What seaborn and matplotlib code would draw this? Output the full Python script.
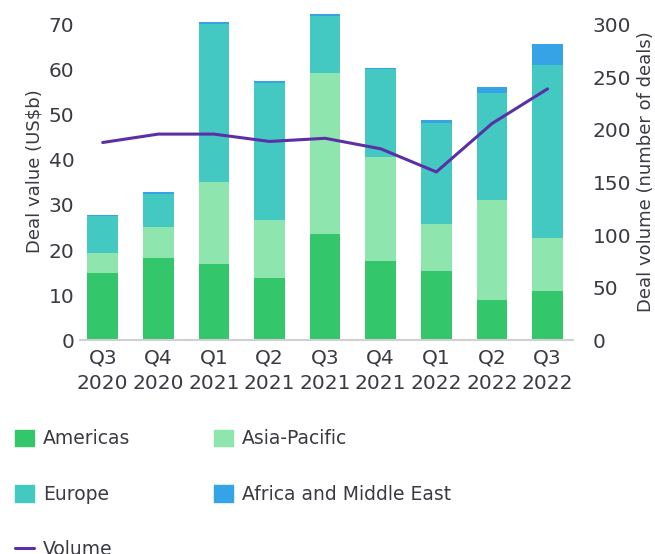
import matplotlib
matplotlib.use("Agg")
import matplotlib.pyplot as plt
import numpy as np
import pandas as pd
import seaborn as sns
from matplotlib.lines import Line2D
from matplotlib.patches import Patch

# --- datos ---------------------------------------------------------------
quarters = ["Q3\n2020", "Q4\n2020", "Q1\n2021", "Q2\n2021", "Q3\n2021",
            "Q4\n2021", "Q1\n2022", "Q2\n2022", "Q3\n2022"]
americas = [15.0, 18.3, 17.0, 13.9, 23.6, 17.6, 15.3, 8.9, 10.9]
asia_pacific = [4.4, 6.9, 18.0, 12.8, 35.8, 23.1, 10.5, 22.2, 11.8]
europe = [8.2, 7.3, 35.2, 30.3, 12.6, 19.5, 22.4, 23.8, 38.4]
africa_me = [0.2, 0.4, 0.3, 0.6, 0.4, 0.3, 0.7, 1.3, 4.7]
volume = [188, 196, 196, 189, 192, 182, 160, 206, 239]

C_AM, C_AP, C_EU, C_AF = "#34C66A", "#8EE6AE", "#43C9C2", "#36A3E6"
C_VOL = "#5B2FA8"
TXT = "#3a3a44"

sns.set_theme(style="white")
plt.rcParams.update({
    "font.family": ["DejaVu Sans"],
    "text.color": TXT, "axes.labelcolor": TXT,
    "xtick.color": TXT, "ytick.color": TXT,
})

df = pd.DataFrame({"quarter": quarters, "Americas": americas,
                   "Asia-Pacific": asia_pacific, "Europe": europe,
                   "Africa and Middle East": africa_me})
# apilado: se dibujan los acumulados de mayor a menor
df["c1"] = df["Americas"]
df["c2"] = df["c1"] + df["Asia-Pacific"]
df["c3"] = df["c2"] + df["Europe"]
df["c4"] = df["c3"] + df["Africa and Middle East"]

fig = plt.figure(figsize=(6.55, 5.54), dpi=100)
ax = fig.add_axes([0.122, 0.386, 0.753, 0.61])
for col, color in [("c4", C_AF), ("c3", C_EU), ("c2", C_AP), ("c1", C_AM)]:
    sns.barplot(data=df, x="quarter", y=col, color=color, width=0.55,
                saturation=1, linewidth=0, ax=ax)

ax.set_xlim(-0.41, 8.46)
ax.set_ylim(0, 75)
ax.set_yticks(range(0, 71, 10))
ax.set_xlabel("")
ax.set_ylabel("Deal value (US$b)", fontsize=13)
ax.tick_params(axis="both", length=0, labelsize=14.5)
ax.tick_params(axis="y", pad=4)
ax.tick_params(axis="x", pad=6)
for s in ["top", "right", "left"]:
    ax.spines[s].set_visible(False)
ax.spines["bottom"].set_color("#cfcfd4")
ax.spines["bottom"].set_linewidth(1.5)
for lbl in ax.get_xticklabels():
    lbl.set_linespacing(1.45)

ax2 = ax.twinx()
sns.lineplot(x=np.arange(len(quarters)), y=volume, color=C_VOL, lw=2.2, ax=ax2)
ax2.set_ylim(0, 75 * 300 / 70)
ax2.set_yticks(range(0, 301, 50))
ax2.set_ylabel("Deal volume (number of deals)", fontsize=13)
ax2.tick_params(axis="y", length=0, labelsize=14.5, pad=14)
for s in ax2.spines.values():
    s.set_visible(False)

handles = [Patch(color=C_AM, label="Americas"),
           Patch(color=C_EU, label="Europe"),
           Line2D([], [], color=C_VOL, lw=2.2, label="Volume"),
           Patch(color=C_AP, label="Asia-Pacific"),
           Patch(color=C_AF, label="Africa and Middle East")]
fig.legend(handles=handles, loc="upper left", bbox_to_anchor=(0.023, 0.225),
           ncol=2, frameon=False, fontsize=13.5, handlelength=1.0,
           handleheight=1.0, handletextpad=0.5, columnspacing=4.45,
           labelspacing=1.95, borderpad=0, borderaxespad=0)

fig.savefig("out.png", dpi=100)
